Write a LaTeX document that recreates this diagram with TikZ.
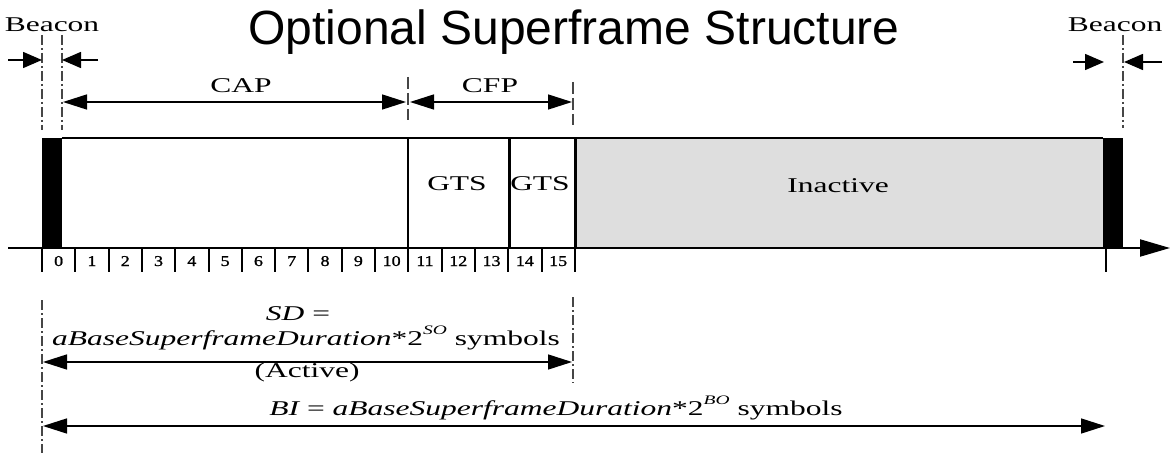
\documentclass[tikz,border=0pt]{standalone}
\usepackage{fontspec}
\setmainfont{Liberation Serif}
\newfontfamily\lblfont{Liberation Serif}[FakeStretch=1.5]
\newfontfamily\numfont{Liberation Serif}[FakeStretch=1.2, FakeBold=1.2]
\newfontfamily\titlefont{Liberation Sans}
\usetikzlibrary{arrows.meta}
\newcommand\supsc[1]{\raisebox{0.5em}{\fontsize{13}{13}\selectfont\itshape #1}}
\definecolor{inactivegray}{RGB}{222,222,222}
\definecolor{guidegray}{RGB}{70,70,70}
\begin{document}
\begin{tikzpicture}[x=1pt,y=-1pt,
  lbl/.style={font={\lblfont\fontsize{21}{25}\selectfont}, inner sep=0pt, anchor=base},
  num/.style={font={\numfont\fontsize{15}{17}\selectfont}, inner sep=0pt, anchor=base},
  dimarrow/.style={line width=1.5pt, {Triangle[length=24pt,width=15pt]}-{Triangle[length=24pt,width=15pt]}},
  beaconarrow/.style={line width=1.5pt, -{Triangle[length=19pt,width=16pt]}},
  dashdot/.style={guidegray, line width=1.6pt, dash pattern=on 10pt off 3pt on 2pt off 3pt},
  dashline/.style={guidegray, line width=1.6pt, dash pattern=on 12pt off 4pt},
]
\useasboundingbox (0,0) rectangle (1172,462);

% title
\node[font={\titlefont\fontsize{48}{56}\selectfont}, anchor=base, inner sep=0pt] (title) at (574,45) {Optional Superframe Structure};

% beacon labels
\node[lbl] (beaconL) at (52,32) {Beacon};
\node[lbl] (beaconR) at (1115,32) {Beacon};

% guide lines above the frame
\coordinate (g1t) at (42,35);  \coordinate (g1b) at (42,130);
\coordinate (g2t) at (62,35);  \coordinate (g2b) at (62,130);
\coordinate (g3t) at (408,77); \coordinate (g3b) at (408,120);
\coordinate (g4t) at (573,82); \coordinate (g4b) at (573,125);
\coordinate (g5t) at (1123,35); \coordinate (g5b) at (1123,128);
\draw[dashdot] (g1t) -- (g1b);
\draw[dashdot] (g2t) -- (g2b);
\draw[dashline] (g3t) -- (g3b);
\draw[dashline] (g4t) -- (g4b);
\draw[dashdot] (g5t) -- (g5b);

% beacon width arrows
\coordinate (ba1s) at (8,60);    \coordinate (ba1e) at (42,60);
\coordinate (ba2s) at (98,60);   \coordinate (ba2e) at (62,60);
\coordinate (ba3s) at (1073,62); \coordinate (ba3e) at (1104,62);
\coordinate (ba4s) at (1162,62); \coordinate (ba4e) at (1124,62);
\draw[beaconarrow] (ba1s) -- (ba1e);
\draw[beaconarrow] (ba2s) -- (ba2e);
\draw[beaconarrow] (ba3s) -- (ba3e);
\draw[beaconarrow] (ba4s) -- (ba4e);

% CAP and CFP spans
\coordinate (capL) at (63,102);  \coordinate (capR) at (406,102);
\coordinate (cfpL) at (410,102); \coordinate (cfpR) at (572,102);
\draw[dimarrow] (capL) -- (capR);
\draw[dimarrow] (cfpL) -- (cfpR);
\node[lbl] (cap) at (241,93) {CAP};
\node[lbl] (cfp) at (490,93) {CFP};

% superframe body
\fill[inactivegray] (575,138) rectangle (1103,248);
\fill[black] (42,138) rectangle (62,248);
\fill[black] (1103,138) rectangle (1123,248);
\coordinate (topL) at (62,138); \coordinate (topR) at (1103,138);
\draw[line width=2pt] (topL) -- (topR);
\draw[line width=1.5pt] (408,138) -- (408,248);
\draw[line width=3pt] (509,138) -- (509,248);
\draw[line width=3pt] (575,138) -- (575,248);
\node[lbl] (gts1) at (457,191) {GTS};
\node[lbl] (gts2) at (540,191) {GTS};
\node[lbl] (inactive) at (838,193) {Inactive};

% time axis with slots
\coordinate (axS) at (8,248); \coordinate (axE) at (1170,248);
\draw[line width=2pt, -{Triangle[length=30pt,width=17pt]}] (axS) -- (axE);
\foreach \k in {0,...,16} {
  \coordinate (tick\k) at ({42+\k*33.3},248);
  \draw[line width=2pt] (tick\k) -- ++(0,24);
}
\foreach \k in {0,...,15} {
  \node[num] (slot\k) at ({42+(\k+0.5)*33.3},266) {\k};
}
\coordinate (tickR) at (1106,248);
\draw[line width=2pt] (tickR) -- ++(0,24);

% guide lines below the frame
\coordinate (g6t) at (42,300);  \coordinate (g6b) at (42,453);
\coordinate (g7t) at (573,297); \coordinate (g7b) at (573,383);
\draw[dashdot] (g6t) -- (g6b);
\draw[dashdot] (g7t) -- (g7b);

% superframe duration
\node[lbl] (sd) at (298,320) {{\itshape SD} =};
\node[lbl] (sdform) at (306,345) {{\itshape aBaseSuperframeDuration}*2\supsc{SO} symbols};
\coordinate (sdL) at (43,362); \coordinate (sdR) at (572,362);
\draw[dimarrow] (sdL) -- (sdR);
\node[lbl] (active) at (307,377) {(Active)};

% beacon interval
\node[lbl] (bi) at (556,415) {{\itshape BI} = {\itshape aBaseSuperframeDuration}*2\supsc{BO} symbols};
\coordinate (biL) at (43,426); \coordinate (biR) at (1105,426);
\draw[dimarrow] (biL) -- (biR);
\end{tikzpicture}
\end{document}
